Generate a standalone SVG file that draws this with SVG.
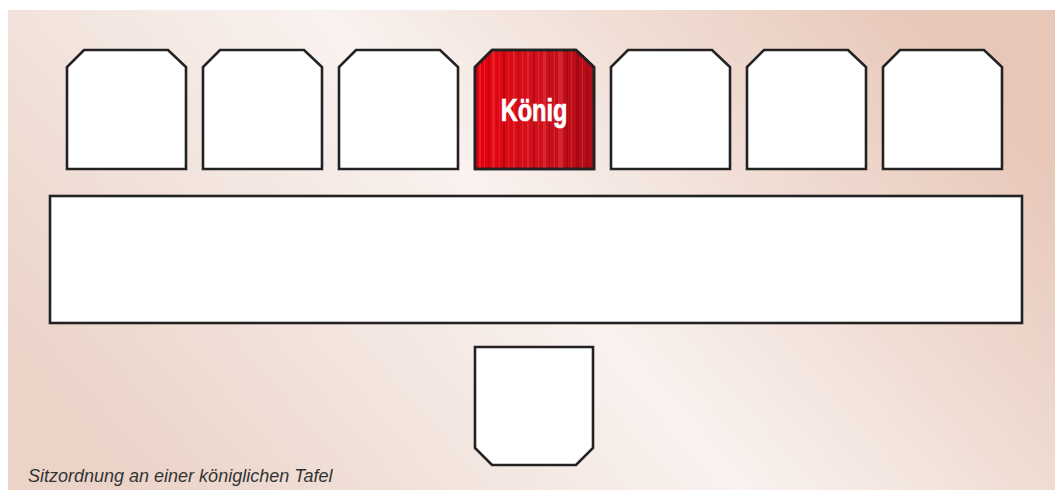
<svg xmlns="http://www.w3.org/2000/svg" width="1055" height="490" viewBox="0 0 1055 490">
  <defs>
    <linearGradient id="bg" x1="0" y1="0.7" x2="1" y2="0.3">
      <stop offset="0" stop-color="#ebd3c8"/>
      <stop offset="0.5" stop-color="#f9f2ef"/>
      <stop offset="1" stop-color="#e7c7b8"/>
    </linearGradient>
    <linearGradient id="red" x1="0" y1="0" x2="1" y2="0">
      <stop offset="0" stop-color="#e2000c"/>
      <stop offset="0.5" stop-color="#d0121c"/>
      <stop offset="1" stop-color="#b00c18"/>
    </linearGradient>
    <style>
      .seat { fill: #ffffff; stroke: #222222; stroke-width: 2.6; stroke-linejoin: miter; }
      .king { fill: url(#red); stroke: #222222; stroke-width: 2.6; }
      .stripeL { fill: #ff4a50; opacity: 0.35; }
      .stripeD { fill: #7a0010; opacity: 0.3; }
      .lbl { font-family: "Liberation Sans", Arial, sans-serif; font-weight: bold; font-size: 31px; fill: #ffffff; stroke: #ffffff; stroke-width: 0.7; }
      .cap { font-family: "Liberation Sans", Arial, sans-serif; font-style: italic; font-size: 18px; fill: #333333; }
    </style>
    <clipPath id="kclip">
      <path d="M492,50 L576,50 L593,67 L593,169 L475,169 L475,67 Z"/>
    </clipPath>
  </defs>
  <rect x="0" y="0" width="1055" height="490" fill="#ffffff"/>
  <rect x="8" y="10" width="1047" height="480" fill="url(#bg)"/>

  <g id="seat1"><path class="seat" d="M84,50 L168,50 L186,67 L186,169 L67,169 L67,67 Z"/></g>
  <g id="seat2"><path class="seat" d="M220,50 L304,50 L322,67 L322,169 L203,169 L203,67 Z"/></g>
  <g id="seat3"><path class="seat" d="M356,50 L440,50 L458,67 L458,169 L339,169 L339,67 Z"/></g>
  <g id="king">
    <path class="king" d="M492,50 L576,50 L594,67 L594,169 L475,169 L475,67 Z"/>
    <g clip-path="url(#kclip)">
      <rect class="stripeL" x="479" y="50" width="2" height="120"/>
      <rect class="stripeL" x="484" y="50" width="1" height="120"/>
      <rect class="stripeD" x="488" y="50" width="1" height="120"/>
      <rect class="stripeL" x="492" y="50" width="3" height="120"/>
      <rect class="stripeL" x="499" y="50" width="1" height="120"/>
      <rect class="stripeD" x="503" y="50" width="2" height="120"/>
      <rect class="stripeL" x="508" y="50" width="1" height="120"/>
      <rect class="stripeL" x="513" y="50" width="2" height="120"/>
      <rect class="stripeD" x="518" y="50" width="1" height="120"/>
      <rect class="stripeL" x="522" y="50" width="1" height="120"/>
      <rect class="stripeL" x="527" y="50" width="2" height="120"/>
      <rect class="stripeD" x="533" y="50" width="2" height="120"/>
      <rect class="stripeL" x="538" y="50" width="1" height="120"/>
      <rect class="stripeL" x="543" y="50" width="3" height="120"/>
      <rect class="stripeD" x="549" y="50" width="1" height="120"/>
      <rect class="stripeL" x="554" y="50" width="1" height="120"/>
      <rect class="stripeL" x="558" y="50" width="5" height="120"/>
      <rect class="stripeD" x="566" y="50" width="2" height="120"/>
      <rect class="stripeL" x="571" y="50" width="1" height="120"/>
      <rect class="stripeD" x="576" y="50" width="3" height="120"/>
      <rect class="stripeL" x="582" y="50" width="1" height="120"/>
      <rect class="stripeD" x="586" y="50" width="2" height="120"/>
    </g>
    <path d="M492,50 L576,50 L594,67 L594,169 L475,169 L475,67 Z" fill="none" stroke="#222222" stroke-width="2.6"/>
    <text class="lbl" text-anchor="middle" transform="translate(534,121) scale(0.76,1)">König</text>
  </g>
  <g id="seat5"><path class="seat" d="M628,50 L712,50 L730,67 L730,169 L611,169 L611,67 Z"/></g>
  <g id="seat6"><path class="seat" d="M764,50 L848,50 L866,67 L866,169 L747,169 L747,67 Z"/></g>
  <g id="seat7"><path class="seat" d="M900,50 L984,50 L1002,67 L1002,169 L883,169 L883,67 Z"/></g>

  <g id="table"><rect class="seat" x="50" y="196" width="972" height="127"/></g>

  <g id="seat-bottom"><path class="seat" d="M475,347 L593,347 L593,448 L576,465 L492,465 L475,448 Z"/></g>

  <g id="connectors"></g>

  <text class="cap" x="28" y="482">Sitzordnung an einer königlichen Tafel</text>
</svg>
